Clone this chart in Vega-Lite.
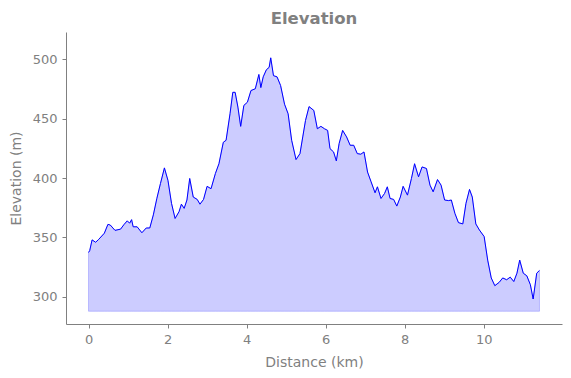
{
  "$schema": "https://vega.github.io/schema/vega-lite/v6.json",
  "width": 496,
  "height": 292,
  "autosize": "none",
  "padding": {"left": 66, "top": 32, "right": 9, "bottom": 54},
  "background": "white",
  "config": {"view": {"stroke": null}, "font": "DejaVu Sans"},
  "title": {"text": "Elevation", "fontSize": 16.5, "fontWeight": "bold", "color": "#808080", "font": "DejaVu Sans", "offset": 5, "anchor": "middle"},
  "data": {"values": [
    {"d": 0.0, "e": 337.4}, {"d": 0.03, "e": 339}, {"d": 0.09, "e": 348}, {"d": 0.18, "e": 346}, {"d": 0.26, "e": 348.5},
    {"d": 0.4, "e": 353.6}, {"d": 0.49, "e": 361}, {"d": 0.55, "e": 360.5}, {"d": 0.67, "e": 356}, {"d": 0.81, "e": 357},
    {"d": 0.9, "e": 361}, {"d": 0.98, "e": 364}, {"d": 1.04, "e": 362}, {"d": 1.09, "e": 365}, {"d": 1.13, "e": 359},
    {"d": 1.23, "e": 359}, {"d": 1.35, "e": 354}, {"d": 1.46, "e": 358}, {"d": 1.55, "e": 358}, {"d": 1.64, "e": 369},
    {"d": 1.73, "e": 383}, {"d": 1.82, "e": 395.4}, {"d": 1.92, "e": 408.5}, {"d": 2.01, "e": 398}, {"d": 2.1, "e": 378.7},
    {"d": 2.19, "e": 366}, {"d": 2.29, "e": 371.7}, {"d": 2.35, "e": 378}, {"d": 2.42, "e": 374.5}, {"d": 2.49, "e": 381.5},
    {"d": 2.56, "e": 399.6}, {"d": 2.65, "e": 384}, {"d": 2.75, "e": 382}, {"d": 2.82, "e": 378}, {"d": 2.91, "e": 382},
    {"d": 3.0, "e": 393}, {"d": 3.1, "e": 391}, {"d": 3.21, "e": 403.8}, {"d": 3.3, "e": 412}, {"d": 3.41, "e": 430},
    {"d": 3.48, "e": 431.7}, {"d": 3.58, "e": 454}, {"d": 3.65, "e": 472}, {"d": 3.71, "e": 472}, {"d": 3.78, "e": 459.6},
    {"d": 3.85, "e": 443.4}, {"d": 3.93, "e": 461}, {"d": 4.02, "e": 463.7}, {"d": 4.11, "e": 473.5}, {"d": 4.22, "e": 475},
    {"d": 4.31, "e": 487}, {"d": 4.36, "e": 476}, {"d": 4.42, "e": 485}, {"d": 4.5, "e": 491}, {"d": 4.57, "e": 493},
    {"d": 4.61, "e": 501}, {"d": 4.68, "e": 486}, {"d": 4.77, "e": 485}, {"d": 4.86, "e": 477.7}, {"d": 4.96, "e": 462},
    {"d": 5.05, "e": 454}, {"d": 5.14, "e": 431.7}, {"d": 5.25, "e": 415.5}, {"d": 5.35, "e": 420.5}, {"d": 5.42, "e": 434.5},
    {"d": 5.49, "e": 448.4}, {"d": 5.58, "e": 460}, {"d": 5.7, "e": 456.8}, {"d": 5.79, "e": 441.4}, {"d": 5.88, "e": 443.4},
    {"d": 5.97, "e": 441.4}, {"d": 6.05, "e": 440}, {"d": 6.11, "e": 424.7}, {"d": 6.2, "e": 421.9}, {"d": 6.27, "e": 414.4},
    {"d": 6.34, "e": 428.9}, {"d": 6.43, "e": 440}, {"d": 6.53, "e": 434.5}, {"d": 6.62, "e": 427.5}, {"d": 6.71, "e": 427.5},
    {"d": 6.8, "e": 420.5}, {"d": 6.89, "e": 420}, {"d": 6.97, "e": 421.9}, {"d": 7.06, "e": 405}, {"d": 7.15, "e": 396.8},
    {"d": 7.25, "e": 387.6}, {"d": 7.31, "e": 392.6}, {"d": 7.4, "e": 382.8}, {"d": 7.49, "e": 387}, {"d": 7.56, "e": 392.6},
    {"d": 7.63, "e": 382.8}, {"d": 7.72, "e": 382}, {"d": 7.8, "e": 376.4}, {"d": 7.89, "e": 384}, {"d": 7.96, "e": 393},
    {"d": 8.07, "e": 385.6}, {"d": 8.17, "e": 399.6}, {"d": 8.25, "e": 412}, {"d": 8.35, "e": 401}, {"d": 8.44, "e": 409.3},
    {"d": 8.55, "e": 408}, {"d": 8.64, "e": 394}, {"d": 8.72, "e": 388.4}, {"d": 8.83, "e": 398.7}, {"d": 8.92, "e": 394},
    {"d": 9.01, "e": 381.5}, {"d": 9.11, "e": 381}, {"d": 9.18, "e": 381.5}, {"d": 9.27, "e": 370.3}, {"d": 9.36, "e": 362.5},
    {"d": 9.47, "e": 361.4}, {"d": 9.55, "e": 378.7}, {"d": 9.64, "e": 390.4}, {"d": 9.71, "e": 384}, {"d": 9.8, "e": 361.4},
    {"d": 9.89, "e": 356.3}, {"d": 10.01, "e": 350.8}, {"d": 10.1, "e": 331}, {"d": 10.19, "e": 316}, {"d": 10.28, "e": 309.5},
    {"d": 10.39, "e": 312.3}, {"d": 10.48, "e": 316}, {"d": 10.58, "e": 314.5}, {"d": 10.67, "e": 316.7}, {"d": 10.76, "e": 313},
    {"d": 10.84, "e": 320}, {"d": 10.91, "e": 331}, {"d": 11.0, "e": 320}, {"d": 11.09, "e": 317.8}, {"d": 11.18, "e": 310.3},
    {"d": 11.25, "e": 298.3}, {"d": 11.34, "e": 320}, {"d": 11.41, "e": 322.3}
  ]},
  "encoding": {
    "x": {"field": "d", "type": "quantitative",
      "scale": {"domain": [-0.57, 11.98], "nice": false, "zero": false},
      "axis": {"title": "Distance (km)", "values": [0, 2, 4, 6, 8, 10], "grid": false,
        "domainColor": "#808080", "tickColor": "#808080", "labelColor": "#808080", "titleColor": "#808080",
        "labelFontSize": 13, "titleFontSize": 14, "titleFontWeight": "normal", "labelFont": "DejaVu Sans", "titleFont": "DejaVu Sans",
        "tickSize": 4, "labelPadding": 5, "titlePadding": 9}},
    "y": {"field": "e", "type": "quantitative",
      "scale": {"domain": [277.3, 522.7], "nice": false, "zero": false},
      "axis": {"title": "Elevation (m)", "values": [300, 350, 400, 450, 500], "grid": false,
        "domainColor": "#808080", "tickColor": "#808080", "labelColor": "#808080", "titleColor": "#808080",
        "labelFontSize": 13, "titleFontSize": 14, "titleFontWeight": "normal", "labelFont": "DejaVu Sans", "titleFont": "DejaVu Sans",
        "tickSize": 4, "labelPadding": 5, "titlePadding": 9}}
  },
  "layer": [
    {"mark": {"type": "area", "color": "blue", "fillOpacity": 0.2, "stroke": "blue", "strokeOpacity": 0.2, "strokeWidth": 1},
     "encoding": {"y2": {"datum": 288}}},
    {"mark": {"type": "line", "color": "blue", "strokeWidth": 1}}
  ]
}
